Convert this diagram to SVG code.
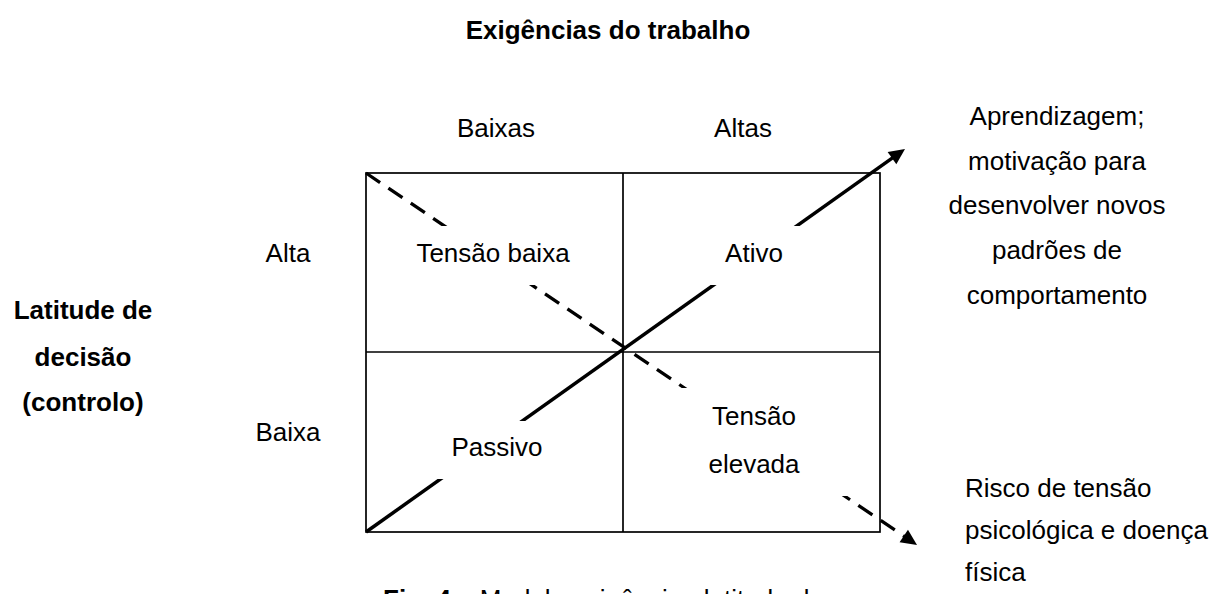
<svg xmlns="http://www.w3.org/2000/svg" width="1216" height="594" viewBox="0 0 1216 594">
<style>
text{font-family:"Liberation Sans",Arial,Helvetica,sans-serif;font-size:26px;fill:#000}
.b{font-weight:bold}
.c{text-anchor:middle}
.grid{fill:none;stroke:#000;stroke-width:1.7}
.solid{fill:none;stroke:#000;stroke-width:3.5}
.dash{fill:none;stroke:#000;stroke-width:3.3;stroke-dasharray:17 10}
.mask{fill:#fff;stroke:none}
</style>
<defs>
<marker id="ah" markerUnits="userSpaceOnUse" markerWidth="18" markerHeight="16" refX="8" refY="7.5" orient="auto" overflow="visible">
<path d="M0,0 L16,7.5 L0,15 z" fill="#000"/>
</marker>
</defs>
<rect width="1216" height="594" fill="#fff"/>
<g id="title"><text class="b c" x="608" y="39">Exigências do trabalho</text></g>
<g id="col-labels">
<text class="c" x="496" y="137">Baixas</text>
<text class="c" x="743" y="137">Altas</text>
</g>
<g id="row-labels">
<text class="c" x="288" y="262">Alta</text>
<text class="c" x="288" y="441">Baixa</text>
</g>
<g id="axis-label">
<text class="b c" x="83" y="319">Latitude de</text>
<text class="b c" x="83" y="366">decisão</text>
<text class="b c" x="83" y="411">(controlo)</text>
</g>
<g id="grid">
<rect class="grid" x="366" y="173" width="514" height="359"/>
<line class="grid" x1="623" y1="173" x2="623" y2="532"/>
<line class="grid" x1="366" y1="352" x2="880" y2="352"/>
</g>
<g id="connectors">
<line class="solid" x1="366" y1="532" x2="898.5" y2="153.6" marker-end="url(#ah)"/>
<line class="dash" x1="366" y1="173" x2="910.4" y2="540.5" marker-end="url(#ah)"/>
</g>
<g id="q-tensao-baixa">
<rect class="mask" x="374" y="226" width="242" height="59"/>
<text class="c" x="493" y="262">Tensão baixa</text>
</g>
<g id="q-ativo">
<rect class="mask" x="630" y="226" width="243" height="59"/>
<text class="c" x="754" y="262">Ativo</text>
</g>
<g id="q-passivo">
<rect class="mask" x="374" y="421" width="242" height="58"/>
<text class="c" x="497" y="456">Passivo</text>
</g>
<g id="q-tensao-elevada">
<rect class="mask" x="630" y="388" width="243" height="108"/>
<text class="c" x="754" y="425">Tensão</text>
<text class="c" x="754" y="473">elevada</text>
</g>
<g id="outcome-learning">
<text class="c" x="1057" y="125">Aprendizagem;</text>
<text class="c" x="1057" y="170">motivação para</text>
<text class="c" x="1057" y="214">desenvolver novos</text>
<text class="c" x="1057" y="259">padrões de</text>
<text class="c" x="1057" y="304">comportamento</text>
</g>
<g id="outcome-risk">
<text x="965" y="497">Risco de tensão</text>
<text x="965" y="539">psicológica e doença</text>
<text x="965" y="581">física</text>
</g>
<g id="caption">
<text x="383" y="608"><tspan class="b">Fig. 4</tspan> – Modelo exigências-latitude de</text>
</g>
</svg>
